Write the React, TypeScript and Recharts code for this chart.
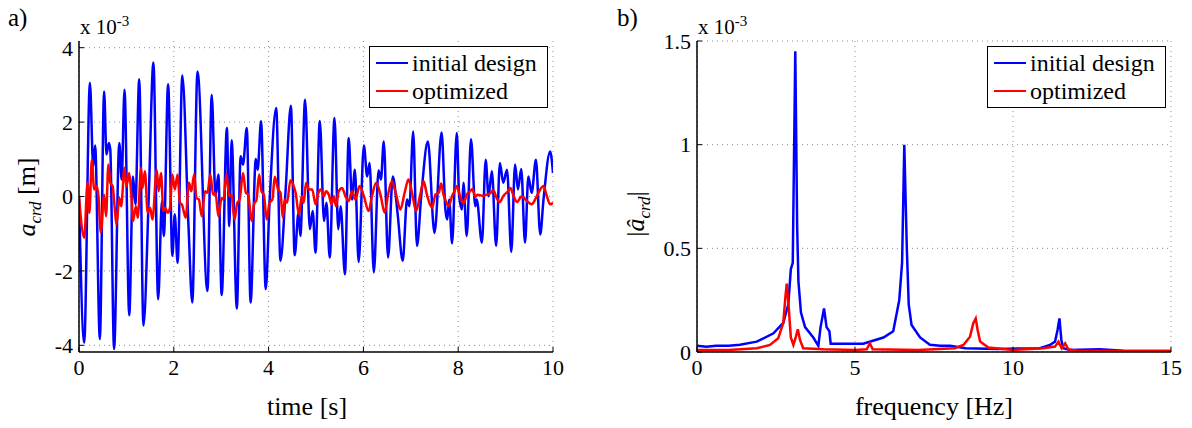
import React from 'react';
import { LineChart, Line, XAxis, YAxis, CartesianGrid, Legend } from 'recharts';

// a) time response, values in units of 1e-3 m
const timeInitial = [
  0, 0.11, 0.23, 0.3, 0.34, 0.44, 0.53, 0.58, 0.63, 0.66,
  0.74, 0.85, 0.9, 0.96, 1.06, 1.14, 1.19, 1.27, 1.36, 1.47,
  1.57, 1.67, 1.75, 1.79, 1.88, 1.97, 2.02, 2.08, 2.18, 2.31,
  2.39, 2.5, 2.71, 2.8, 2.88, 2.94, 3.01, 3.12, 3.17, 3.22,
  3.33, 3.41, 3.46, 3.54, 3.62, 3.73, 3.77, 3.84, 3.94, 4.02,
  4.16, 4.25, 4.36, 4.47, 4.55, 4.63, 4.67, 4.77, 4.87, 4.93,
  4.99, 5.08, 5.17, 5.22, 5.29, 5.39, 5.47, 5.52, 5.61, 5.69,
  5.76, 5.82, 5.9, 6.01, 6.08, 6.13, 6.22, 6.32, 6.37, 6.43,
  6.52, 6.62, 6.72, 6.83, 6.92, 6.97, 7.05, 7.13, 7.22, 7.36,
  7.5, 7.65, 7.73, 7.77, 7.81, 7.87, 7.97, 8.02, 8.08, 8.11,
  8.18, 8.27, 8.36, 8.39, 8.5, 8.58, 8.64, 8.71, 8.8, 8.88,
  8.95, 9.03, 9.12, 9.2, 9.26, 9.33, 9.41, 9.48, 9.55, 9.64,
  9.73, 9.8, 9.94, 10,
];
const accInitial = [
  0, -3.93, 3.06, 0.81, 1.37, -3.83, 2.82, 1.13, 1.44, 1.26,
  -4.1, 1.44, 0.46, 2.87, -3.19, 0.54, -0.21, 3.15, -3.47, -0.08,
  3.6, -2.76, -0.13, -1.06, 3.02, -1.6, -0.48, -1.78, 3.25, -0.79,
  -2.85, 3.36, -2.54, 2.73, 0.01, 0.59, -2.65, 1.84, -0.8, 1.51,
  -3.01, 1.08, 0.86, 1.84, -2.85, 1.01, 0.72, 2.02, -2.49, -0.17,
  2.38, -1.73, 0.19, 2.44, -1.58, -0.44, -1.06, 2.6, -0.88, -0.39,
  -1.51, 2.03, -0.66, -0.17, -1.64, 2.11, -0.88, -0.26, -2.09, 1.57,
  -0.08, 0.72, -1.76, 1.37, 0.54, 0.9, -2.04, 0.7, 0.46, 1.48,
  -1.64, 0.54, -0.44, -1.73, -0.08, -0.26, 1.75, -1.33, 0.01, 1.48,
  -0.98, 1.72, -0.35, -0.62, -0.08, -1.26, 1.71, 0.01, -0.35, 0.37,
  -1.06, 1.54, -0.26, -0.08, -1.24, 0.99, 0.01, 0.68, -1.33, 0.9,
  0.37, 0.72, -1.49, 0.86, 0.19, 0.74, -1.24, 0.54, 0.1, 0.99,
  -1.02, -0.08, 1.21, 0.63,
];

const timeOptimized = [
  0, 0.11, 0.18, 0.22, 0.27, 0.32, 0.37, 0.41, 0.46, 0.53,
  0.57, 0.62, 0.66, 0.71, 0.75, 0.79, 0.85, 0.89, 0.96, 1.0,
  1.06, 1.1, 1.14, 1.2, 1.24, 1.31, 1.34, 1.39, 1.45, 1.5,
  1.55, 1.64, 1.68, 1.73, 1.78, 1.82, 1.87, 1.92, 1.97, 2.02,
  2.08, 2.13, 2.17, 2.25, 2.32, 2.37, 2.43, 2.48, 2.53, 2.59,
  2.66, 2.71, 2.77, 2.83, 2.88, 2.94, 3.01, 3.05, 3.11, 3.17,
  3.22, 3.28, 3.34, 3.39, 3.46, 3.52, 3.57, 3.64, 3.7, 3.74,
  3.8, 3.85, 3.9, 3.96, 4.02, 4.08, 4.13, 4.2, 4.25, 4.3,
  4.34, 4.39, 4.46, 4.53, 4.57, 4.64, 4.7, 4.74, 4.79, 4.85,
  4.92, 4.99, 5.05, 5.1, 5.17, 5.21, 5.27, 5.33, 5.38, 5.42,
  5.48, 5.55, 5.62, 5.69, 5.76, 5.83, 5.92, 6.01, 6.11, 6.18,
  6.27, 6.36, 6.45, 6.52, 6.6, 6.69, 6.78, 6.87, 6.95, 7.04,
  7.11, 7.2, 7.27, 7.34, 7.45, 7.52, 7.59, 7.64, 7.69, 7.74,
  7.8, 7.87, 7.92, 7.97, 8.04, 8.11, 8.18, 8.25, 8.3, 8.36,
  8.41, 8.48, 8.53, 8.6, 8.67, 8.74, 8.81, 8.88, 8.95, 9.05,
  9.1, 9.17, 9.24, 9.34, 9.45, 9.55, 9.64, 9.73, 9.8, 9.87,
  9.94, 10,
];
const accOptimized = [
  0, -1.11, 0.37, -0.44, 0.99, 0.19, 0.28, 0.01, -0.96, 0.05,
  -0.53, 0.86, 0.37, 0.28, -0.26, -0.75, -0.04, -0.26, 0.77, 0.28,
  0.63, 0.1, -0.66, -0.26, -0.57, 0.77, 0.23, 0.68, -0.44, -0.3,
  -0.62, 0.72, 0.14, 0.63, -0.39, -0.3, -0.44, -0.3, 0.59, 0.19,
  0.59, -0.17, -0.21, -0.57, 0.37, 0.14, 0.59, -0.04, -0.08, -0.53,
  0.14, 0.1, 0.59, 0.05, 0.1, -0.53, -0.04, -0.08, 0.61, 0.01,
  0.05, -0.62, -0.17, -0.08, 0.63, 0.1, 0.05, -0.66, -0.17, -0.12,
  0.59, 0.14, 0.05, -0.62, -0.17, -0.08, 0.53, 0.19, 0.1, -0.57,
  -0.08, -0.17, 0.44, 0.28, 0.1, -0.48, 0.01, -0.17, 0.37, 0.19,
  0.19, -0.21, 0.1, 0.19, 0.01, 0.14, 0.05, -0.21, 0.01, -0.26,
  0.14, 0.23, 0.01, -0.12, 0.14, -0.08, 0.28, 0.01, -0.39, 0.01,
  0.37, 0.05, -0.44, 0.05, 0.41, 0.05, -0.35, 0.1, 0.46, 0.01,
  -0.39, 0.05, 0.41, 0.05, -0.3, 0.05, 0.1, 0.35, 0.05, -0.12,
  -0.26, 0.01, 0.14, 0.28, 0.01, -0.19, 0.05, 0.14, 0.2, -0.01,
  0.05, 0.03, 0.01, 0.05, 0.08, 0.17, -0.04, -0.15, 0.01, 0.14,
  0.23, 0.01, -0.15, 0.01, -0.12, -0.21, -0.04, 0.19, 0.28, 0.01,
  -0.21, -0.17,
];

// b) amplitude spectrum, values in units of 1e-3
const freqInitial = [
  0, 0.3, 0.6, 1.0, 1.36, 1.89, 2.42, 2.73, 2.89, 2.97,
  3.03, 3.11, 3.17, 3.21, 3.29, 3.42, 3.68, 3.84, 3.91, 4.02,
  4.1, 4.19, 4.23, 5.26, 5.9, 6.21, 6.4, 6.49, 6.56, 6.64,
  6.7, 6.79, 7.06, 7.37, 7.69, 8.01, 8.5, 9.5, 10.85, 11.17,
  11.33, 11.41, 11.47, 11.53, 11.59, 11.8, 12.75, 13.5, 15,
];
const specInitial = [
  0.03, 0.025, 0.03, 0.03, 0.035, 0.05, 0.09, 0.14, 0.23, 0.4,
  0.43, 1.45, 0.6, 0.34, 0.19, 0.12, 0.07, 0.03, 0.12, 0.21,
  0.12, 0.1, 0.04, 0.04, 0.07, 0.1, 0.25, 0.43, 1.0, 0.5,
  0.23, 0.13, 0.07, 0.035, 0.03, 0.03, 0.018, 0.015, 0.018, 0.034,
  0.05, 0.106, 0.162, 0.058, 0.018, 0.01, 0.013, 0.006, 0.005,
];

const freqOptimized = [
  0, 1.0, 1.89, 2.31, 2.57, 2.73, 2.8, 2.84, 2.9, 2.97,
  3.05, 3.13, 3.19, 3.26, 3.36, 4.0, 5.0, 5.37, 5.47, 5.56,
  7.0, 8.16, 8.43, 8.64, 8.74, 8.82, 8.88, 8.96, 9.22, 10.0,
  10.96, 11.33, 11.44, 11.54, 11.65, 11.75, 12.02, 15,
];
const specOptimized = [
  0.01, 0.01, 0.018, 0.034, 0.066, 0.14, 0.27, 0.33, 0.22, 0.07,
  0.034, 0.074, 0.11, 0.058, 0.018, 0.013, 0.01, 0.013, 0.042, 0.013,
  0.01, 0.018, 0.034, 0.074, 0.138, 0.162, 0.106, 0.05, 0.022, 0.01,
  0.018, 0.026, 0.05, 0.018, 0.042, 0.013, 0.006, 0.005,
];

const timeTicks = [0, 2, 4, 6, 8, 10];
const accTicks = [-4, -2, 0, 2, 4];
const freqTicks = [0, 5, 10, 15];
const specTicks = [0, 0.5, 1, 1.5];

const SERIF = "'Liberation Serif', 'DejaVu Serif'";
const BLUE = '#0000ff';
const RED = '#ff0000';

const initialTime = timeInitial.map((t, i) => ({ x: t, y: accInitial[i] }));
const optimizedTime = timeOptimized.map((t, i) => ({ x: t, y: accOptimized[i] }));
const initialSpec = freqInitial.map((f, i) => ({ x: f, y: specInitial[i] }));
const optimizedSpec = freqOptimized.map((f, i) => ({ x: f, y: specOptimized[i] }));

function LegendBox({ payload }: { payload?: { value: string; color: string }[] }) {
  return (
    <div
      style={{
        width: 179,
        height: 62,
        boxSizing: 'border-box',
        border: '1.5px solid #000',
        background: '#fff',
        fontFamily: SERIF,
        fontSize: 24,
        padding: '2px 0 0 6px',
      }}
    >
      {(payload || []).map((entry) => (
        <div key={entry.value} style={{ display: 'flex', alignItems: 'center', height: 28 }}>
          <span style={{ display: 'inline-block', width: 32, height: 2, background: entry.color, marginRight: 4 }} />
          <span>{entry.value}</span>
        </div>
      ))}
    </div>
  );
}

const tickStyle = { fontSize: 22, fill: '#000', fontFamily: SERIF };

function Panel({
  left, width, plotLeft, plotRight, xDomain, yDomain, xTicks, yTicks, blue, red, curve, legendLeft,
}: {
  left: number; width: number; plotLeft: number; plotRight: number;
  xDomain: [number, number]; yDomain: [number, number];
  xTicks: number[]; yTicks: number[];
  blue: { x: number; y: number }[]; red: { x: number; y: number }[];
  curve: 'monotone' | 'linear'; legendLeft: number;
}) {
  return (
    <div style={{ position: 'absolute', left, top: 0 }}>
      <LineChart
        width={width}
        height={428}
        margin={{ top: 41, right: width - plotRight, bottom: 46, left: 0 }}
      >
        <CartesianGrid
          xAxisId="b"
          yAxisId="l"
          stroke="#8c8c8c"
          strokeDasharray="1 4"
          horizontalValues={yTicks}
          verticalValues={xTicks}
        />
        <XAxis
          xAxisId="b"
          type="number"
          dataKey="x"
          domain={xDomain}
          ticks={xTicks}
          allowDataOverflow
          height={30}
          tickSize={-5}
          tickMargin={12}
          tick={tickStyle}
          axisLine={{ stroke: '#000', strokeWidth: 1.5 }}
          tickLine={{ stroke: '#000' }}
        />
        <XAxis
          xAxisId="t"
          orientation="top"
          type="number"
          dataKey="x"
          domain={xDomain}
          ticks={xTicks}
          allowDataOverflow
          height={0}
          tickSize={-5}
          tick={false}
          axisLine={{ stroke: '#000', strokeWidth: 1.5 }}
          tickLine={{ stroke: '#000' }}
        />
        <YAxis
          yAxisId="l"
          type="number"
          domain={yDomain}
          ticks={yTicks}
          allowDataOverflow
          width={plotLeft}
          tickSize={-5}
          tickMargin={11}
          tick={tickStyle}
          axisLine={{ stroke: '#000', strokeWidth: 1.5 }}
          tickLine={{ stroke: '#000' }}
        />
        <YAxis
          yAxisId="r"
          orientation="right"
          type="number"
          domain={yDomain}
          ticks={yTicks}
          allowDataOverflow
          width={0}
          tickSize={-5}
          tick={false}
          axisLine={{ stroke: '#000', strokeWidth: 1.5 }}
          tickLine={{ stroke: '#000' }}
        />
        <Legend
          layout="vertical"
          align="center"
          verticalAlign="middle"
          content={<LegendBox />}
          wrapperStyle={{ left: legendLeft, top: 46, width: 179, height: 62 }}
        />
        <Line
          xAxisId="b"
          yAxisId="l"
          data={blue}
          dataKey="y"
          name="initial design"
          type={curve}
          stroke={BLUE}
          strokeWidth={2.5}
          dot={false}
          isAnimationActive={false}
        />
        <Line
          xAxisId="b"
          yAxisId="l"
          data={red}
          dataKey="y"
          name="optimized"
          type={curve}
          stroke={RED}
          strokeWidth={2.5}
          dot={false}
          isAnimationActive={false}
        />
      </LineChart>
    </div>
  );
}

const txt: React.CSSProperties = { position: 'absolute', fontFamily: SERIF, color: '#000', whiteSpace: 'nowrap' };

export default function App() {
  return (
    <div style={{ position: 'absolute', left: 0, top: 0, width: 1192, height: 428, background: '#fff', overflow: 'hidden' }}>
      <Panel
        left={0}
        width={600}
        plotLeft={79}
        plotRight={553}
        xDomain={[0, 10]}
        yDomain={[-4.18, 4.18]}
        xTicks={timeTicks}
        yTicks={accTicks}
        blue={initialTime}
        red={optimizedTime}
        curve="monotone"
        legendLeft={369}
      />
      <Panel
        left={600}
        width={592}
        plotLeft={97}
        plotRight={571}
        xDomain={[0, 15]}
        yDomain={[0, 1.5]}
        xTicks={freqTicks}
        yTicks={specTicks}
        blue={initialSpec}
        red={optimizedSpec}
        curve="linear"
        legendLeft={387}
      />

      <div style={{ ...txt, left: 8, top: 4, fontSize: 25 }}>a)</div>
      <div style={{ ...txt, left: 617, top: 4, fontSize: 25 }}>b)</div>

      <div style={{ ...txt, left: 80, top: 13, fontSize: 21 }}>
        x 10<sup style={{ fontSize: 15 }}>-3</sup>
      </div>
      <div style={{ ...txt, left: 698, top: 13, fontSize: 21 }}>
        x 10<sup style={{ fontSize: 15 }}>-3</sup>
      </div>

      <div style={{ ...txt, left: 307, top: 407, fontSize: 26, transform: 'translate(-50%, -50%)' }}>time [s]</div>
      <div style={{ ...txt, left: 934, top: 407, fontSize: 26, transform: 'translate(-50%, -50%)' }}>frequency [Hz]</div>

      <div style={{ ...txt, left: 29, top: 197, fontSize: 26, transform: 'translate(-50%, -50%) rotate(-90deg)' }}>
        <i>a</i>
        <sub style={{ fontSize: 17 }}><i>crd</i></sub> [m]
      </div>
      <div style={{ ...txt, left: 638, top: 214, fontSize: 26, transform: 'translate(-50%, -50%) rotate(-90deg)' }}>
        |<i>â</i>
        <sub style={{ fontSize: 17 }}><i>crd</i></sub>|
      </div>
    </div>
  );
}
